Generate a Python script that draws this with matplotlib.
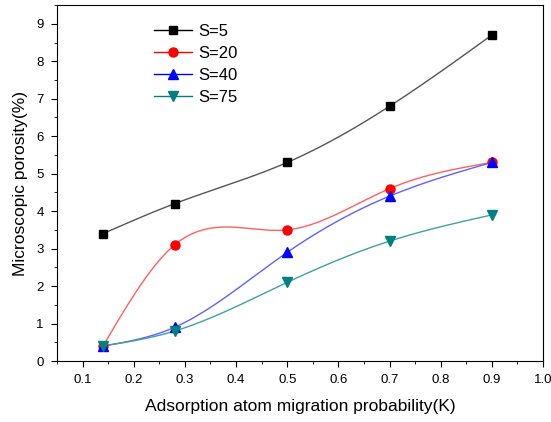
import numpy as np
import matplotlib
matplotlib.use("Agg")
import matplotlib.pyplot as plt
from matplotlib.ticker import MultipleLocator

plt.rcParams['font.family'] = ['Liberation Sans', 'DejaVu Sans']

k = [0.14, 0.28, 0.5, 0.7, 0.9]
s5 = [3.4, 4.2, 5.3, 6.8, 8.7]
s20 = [0.4, 3.1, 3.5, 4.6, 5.3]
s40 = [0.4, 0.9, 2.9, 4.4, 5.3]
s75 = [0.4, 0.8, 2.1, 3.2, 3.9]
labels = ["S=5", "S=20", "S=40", "S=75"]


def natural_spline(x, y, n=200):
    x = np.asarray(x, float); y = np.asarray(y, float)
    m = len(x); h = np.diff(x)
    A = np.zeros((m, m)); b = np.zeros(m)
    A[0, 0] = 1; A[-1, -1] = 1
    for i in range(1, m - 1):
        A[i, i - 1] = h[i - 1]; A[i, i] = 2 * (h[i - 1] + h[i]); A[i, i + 1] = h[i]
        b[i] = 6 * ((y[i + 1] - y[i]) / h[i] - (y[i] - y[i - 1]) / h[i - 1])
    M = np.linalg.solve(A, b)
    xs = np.linspace(x[0], x[-1], n)
    idx = np.clip(np.searchsorted(x, xs) - 1, 0, m - 2)
    x0 = x[idx]; x1 = x[idx + 1]; hh = x1 - x0
    t0 = x1 - xs; t1 = xs - x0
    ys = (M[idx] * t0 ** 3 + M[idx + 1] * t1 ** 3) / (6 * hh) + \
         (y[idx] / hh - M[idx] * hh / 6) * t0 + (y[idx + 1] / hh - M[idx + 1] * hh / 6) * t1
    return xs, ys


fig = plt.figure(figsize=(5.51, 4.22), dpi=100)
ax = fig.add_axes([0.1034, 0.1445, 0.8821, 0.8435])

series = [s5, s20, s40, s75]
mcolors = ["black", "red", "blue", "#008080"]
lcolors = ["#555555", "#ff6060", "#6060ff", "#40a0a0"]
markers = ["s", "o", "^", "v"]
msizes = [5.5, 6.5, 7.5, 7.5]

for ys, mc, lc, mk, ms, lab in zip(series, mcolors, lcolors, markers, msizes, labels):
    xs_s, ys_s = natural_spline(k, ys)
    ax.plot(xs_s, ys_s, color=lc, lw=1.0, zorder=2)
    ax.plot(k, ys, linestyle='none', marker=mk, color=mc, markersize=ms, zorder=3)
    ax.plot([], [], color=mc, lw=1.0, marker=mk, markersize=ms, label=lab)

ax.set_xlim(0.05, 1.0)
ax.set_ylim(0, 9.5)
ax.xaxis.set_minor_locator(MultipleLocator(0.05))
ax.yaxis.set_major_locator(MultipleLocator(1))
ax.yaxis.set_minor_locator(MultipleLocator(0.5))
ax.set_xticks(np.arange(0.1, 1.01, 0.1))
ax.set_xticklabels(["0.1", "0.2", "0.3", "0.4", "0.5", "0.6", "0.7", "0.8", "0.9", "1.0"])
ax.tick_params(axis='both', which='major', direction='out', length=4.5, pad=5, labelsize=9.5, top=False, right=False)
ax.tick_params(axis='both', which='minor', direction='out', length=2.5, top=False, right=False)

ax.set_xlabel("Adsorption atom migration probability(K)", fontsize=12.5, labelpad=9)
ax.set_ylabel("Microscopic porosity(%)", fontsize=12.5, labelpad=6)

ax.legend(loc='upper left', bbox_to_anchor=(0.182, 0.97), frameon=False, fontsize=12,
          handlelength=2.3, handletextpad=0.4, labelspacing=0.42, borderpad=0)

fig.savefig("out.png", dpi=100)
